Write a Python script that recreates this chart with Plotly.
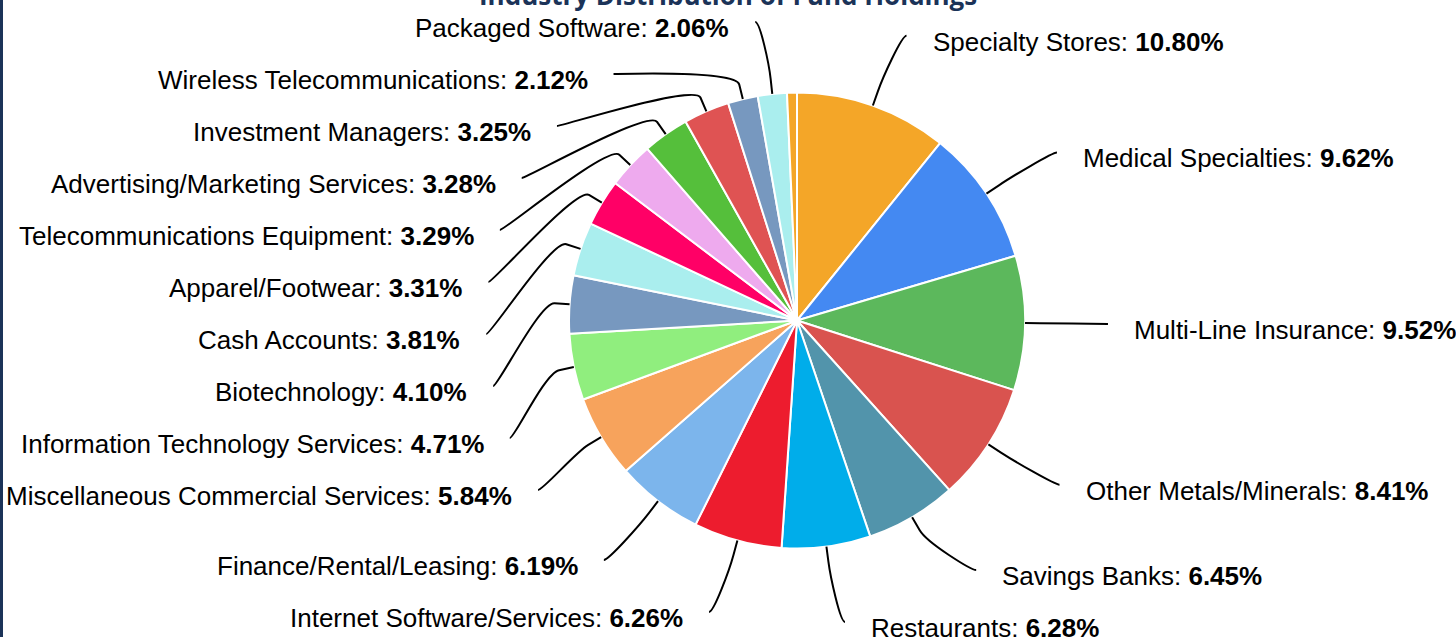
import math
import plotly.graph_objects as go

# ---------------- data ----------------
CATEGORIES = [
    "Specialty Stores", "Medical Specialties", "Multi-Line Insurance",
    "Other Metals/Minerals", "Savings Banks", "Restaurants",
    "Internet Software/Services", "Finance/Rental/Leasing",
    "Miscellaneous Commercial Services", "Information Technology Services",
    "Biotechnology", "Cash Accounts", "Apparel/Footwear",
    "Telecommunications Equipment", "Advertising/Marketing Services",
    "Investment Managers", "Wireless Telecommunications", "Packaged Software",
    "Other",
]
VALUES = [10.80, 9.62, 9.52, 8.41, 6.45, 6.28, 6.26, 6.19, 5.84, 4.71,
          4.10, 3.81, 3.31, 3.29, 3.28, 3.25, 2.12, 2.06, 0.70]
COLORS = ["#F4A628", "#4489F2", "#5CB85C", "#D9534F", "#5294AB", "#00ADEA",
          "#ED1C2E", "#7CB5EC", "#F7A35C", "#90EE7E", "#7798BF", "#AAEEEE",
          "#FF0066", "#EEAAEE", "#55BF3B", "#DF5353", "#7798BF", "#AAEEEE",
          "#F4A628"]
UNLABELED = ["Other"]
TITLE = "Industry Distribution of Fund Holdings"

# ---------------- layout constants (pixels) ----------------
W, H = 1456, 637
CX, CY, R = 797, 320.5, 228          # pie centre / radius
LABEL_R = 302                        # label circle radius
LABEL_PAD = 9                        # extra horizontal padding of label anchor
TEXT_GAP = 24                        # gap between connector end and text
SLOT = 52                            # vertical slot per label
Y_TOP, Y_BOTTOM = 22, 622            # label y limits
BREAK = 15                           # connector break distance outside pie
FONT = "Liberation Sans, Arial, sans-serif"
NAVY = "#1B3358"


def px(x):
    return x / W


def py(y):
    return 1 - y / H


def distribute(targets, size, lo, hi):
    order = sorted(range(len(targets)), key=lambda i: targets[i])
    groups = [[i] for i in order]

    def place(g):
        n = len(g)
        mean = sum(targets[i] for i in g) / n
        start = mean - (n - 1) * size / 2
        start = min(start, hi - (n - 1) * size)
        start = max(start, lo)
        return start

    while True:
        starts = [place(g) for g in groups]
        merged = False
        for k in range(len(groups) - 1):
            end_k = starts[k] + (len(groups[k]) - 1) * size
            if end_k + size > starts[k + 1] + 1e-9:
                groups[k] = groups[k] + groups[k + 1]
                del groups[k + 1]
                merged = True
                break
        if not merged:
            break
    out = {}
    for g in groups:
        s = place(g)
        for j, i in enumerate(g):
            out[i] = s + j * size
    return out


total = sum(VALUES)
cum = 0.0
slices = []
for name, v in zip(CATEGORIES, VALUES):
    mid = (cum + v / 2) / total * 2 * math.pi
    cum += v
    slices.append(dict(name=name, value=v, theta=mid))

labeled = [s for s in slices if s["name"] not in UNLABELED]
for s in labeled:
    s["right"] = math.sin(s["theta"]) > 0
    s["ny"] = CY - math.cos(s["theta"]) * LABEL_R

for side in (True, False):
    grp = [s for s in labeled if s["right"] == side]
    pos = distribute([s["ny"] for s in grp], SLOT, Y_TOP, Y_BOTTOM)
    for i, s in enumerate(grp):
        s["y"] = pos[i]

fig = go.Figure()
fig.add_trace(go.Pie(
    labels=CATEGORIES, values=VALUES, sort=False, direction="clockwise",
    rotation=0, textinfo="none", hoverinfo="label+percent",
    marker=dict(colors=COLORS, line=dict(color="white", width=2)),
    domain=dict(x=[px(CX - R), px(CX + R)], y=[py(CY + R), py(CY - R)]),
    showlegend=False,
))

shapes = [dict(type="rect", xref="paper", yref="paper", x0=0, x1=px(3),
               y0=0, y1=1, fillcolor=NAVY, line=dict(width=0), layer="above")]
annotations = []
for s in labeled:
    y = s["y"]
    yx = s["ny"] if (abs(y - Y_TOP) < 1e-6 or abs(y - Y_BOTTOM) < 1e-6) else y
    dy = max(-LABEL_R, min(LABEL_R, yx - CY))
    sgn = 1 if s["right"] else -1
    x = CX + sgn * (math.sqrt(LABEL_R ** 2 - dy ** 2) + LABEL_PAD)
    ux, uy = math.sin(s["theta"]), -math.cos(s["theta"])
    tx, ty = CX + ux * R, CY + uy * R
    bx, by = tx + ux * BREAK, ty + uy * BREAK
    cx2, cy2 = tx + ux * 2 * BREAK, ty + uy * 2 * BREAK
    c1x = x - sgn * 5
    path = (f"M {px(x)},{py(y)} C {px(c1x)},{py(y)} {px(cx2)},{py(cy2)} "
            f"{px(bx)},{py(by)} L {px(tx)},{py(ty)}")
    shapes.append(dict(type="path", xref="paper", yref="paper", path=path,
                       line=dict(color="black", width=2)))
    annotations.append(dict(
        xref="paper", yref="paper",
        x=px(x + sgn * TEXT_GAP), y=py(y + 6),
        xanchor="left" if s["right"] else "right", yanchor="middle",
        text=f"{s['name']}: <b>{s['value']:.2f}%</b>", showarrow=False,
        font=dict(family=FONT, size=26, color="black"),
    ))

annotations.append(dict(
    xref="paper", yref="paper", x=0.5, y=py(15), xanchor="center",
    yanchor="bottom", text=f"<b>{TITLE}</b>", showarrow=False,
    font=dict(family="Open Sans, sans-serif", size=26, color=NAVY),
))

fig.update_layout(
    width=W, height=H, margin=dict(l=0, r=0, t=0, b=0),
    paper_bgcolor="white", plot_bgcolor="white",
    shapes=shapes, annotations=annotations,
)
fig.write_html("out.html",
               config={"displayModeBar": False},
               post_script="document.body.style.margin='0';"
                           "document.body.style.overflow='hidden';")
